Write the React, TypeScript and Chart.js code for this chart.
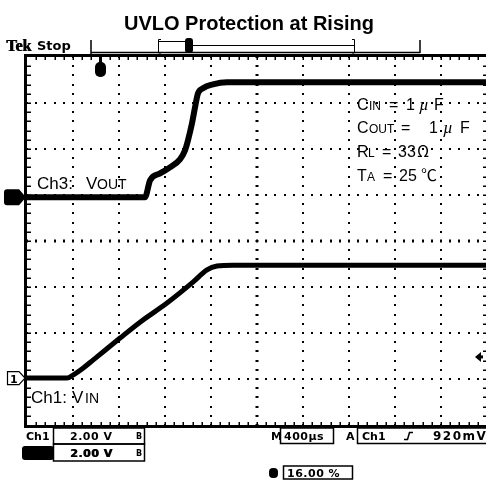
import React, { useEffect, useRef } from "react";
import { Chart, registerables } from "chart.js";

Chart.register(...registerables);

// ---- data (time in µs, voltage in V) ----
const TIME_US_VIN = [0, 348, 400, 487, 574, 809, 983, 1217, 1443, 1565, 1652, 1791, 4000];
const VIN_V = [0, 0, 0.13, 0.43, 0.78, 1.74, 2.43, 3.26, 4.17, 4.7, 4.87, 4.91, 4.91];
const TIME_US_VOUT = [0, 1026, 1070, 1157, 1243, 1330, 1374, 1400, 1435, 1461, 1487, 1530, 1617, 1739, 4000];
const VOUT_V = [0, 0, 0.74, 1.04, 1.3, 1.65, 2.04, 2.48, 3.22, 3.91, 4.52, 4.74, 4.91, 5.0, 5.0];

const VOLTS_PER_DIV = 2; // both channels 2.00 V/div
const US_PER_DIV = 400; // M 400µs
const H_DIVS = 10;
const V_DIVS = 8;
const CH1_GROUND_DIV = -2.98;
const CH3_GROUND_DIV = 0.95;
const TRIGGER_LEVEL_V = 0.92; // 920mV on Ch1

const TITLE = "UVLO Protection at Rising";
const CH1_SETTING = "2.00 V";
const CH3_SETTING = "2.00 V";
const TIMEBASE = "400µs";
const TRIG_SOURCE = "Ch1";
const TRIG_LEVEL_LABEL = "920mV";
const H_POSITION = "16.00 %";

const SANS = '"Liberation Sans", Arial, sans-serif';
const BOLD_UI = '"DejaVu Sans", "Liberation Sans", sans-serif';

const toDiv = (v: number, ground: number) => v / VOLTS_PER_DIV + ground;

function seg(ctx: CanvasRenderingContext2D, s: string, x: number, y: number, font: string) {
  ctx.font = font;
  ctx.textAlign = "left";
  ctx.textBaseline = "alphabetic";
  ctx.fillText(s, x, y);
}

const scopePlugin = {
  id: "scope",
  beforeDatasetsDraw(chart: any) {
    const ctx: CanvasRenderingContext2D = chart.ctx;
    const xs = chart.scales.x;
    const ys = chart.scales.y;
    const { left, right, top, bottom } = chart.chartArea;
    ctx.save();
    ctx.fillStyle = "#000";
    const dot = (x: number, y: number) => ctx.fillRect(Math.round(x) - 1, Math.round(y) - 1, 2, 2);
    for (let i = 1; i < H_DIVS; i++) {
      const x = xs.getPixelForValue(i * US_PER_DIV);
      for (let j = 0; j <= V_DIVS * 5; j++) dot(x, ys.getPixelForValue(-V_DIVS / 2 + j * 0.2));
    }
    for (let k = 1; k < V_DIVS; k++) {
      const y = ys.getPixelForValue(-V_DIVS / 2 + k);
      for (let j = 0; j <= H_DIVS * 5; j++) dot(xs.getPixelForValue((j * US_PER_DIV) / 5), y);
    }
    const cx = xs.getPixelForValue((H_DIVS / 2) * US_PER_DIV);
    const cy = ys.getPixelForValue(0);
    for (let j = 0; j <= V_DIVS * 5; j++) {
      const y = Math.round(ys.getPixelForValue(-V_DIVS / 2 + j * 0.2));
      ctx.fillRect(Math.round(cx) - 2, y - 0.5, 4, 1);
    }
    for (let j = 0; j <= H_DIVS * 5; j++) {
      const x = Math.round(xs.getPixelForValue((j * US_PER_DIV) / 5));
      ctx.fillRect(x - 0.5, Math.round(cy) - 2, 1, 4);
    }
    for (let j = 1; j < H_DIVS * 5; j++) {
      const x = Math.round(xs.getPixelForValue((j * US_PER_DIV) / 5));
      ctx.fillRect(x - 0.5, top, 1.5, 3);
      ctx.fillRect(x - 0.5, bottom - 3, 1.5, 3);
    }
    for (let j = 1; j < V_DIVS * 5; j++) {
      const y = Math.round(ys.getPixelForValue(-V_DIVS / 2 + j * 0.2));
      ctx.fillRect(left, y - 0.5, 4, 1.5);
      ctx.fillRect(right - 4, y - 0.5, 4, 1.5);
    }
    ctx.fillRect(left - 3, top - 3, right - left + 3, 3);
    ctx.fillRect(left - 3, bottom, right - left + 3, 3);
    ctx.fillRect(left - 3, top - 3, 3, bottom - top + 6);
    ctx.restore();
  },
  afterDraw(chart: any) {
    const ctx: CanvasRenderingContext2D = chart.ctx;
    const ys = chart.scales.y;
    const { top } = chart.chartArea;
    ctx.save();
    ctx.fillStyle = "#000";
    ctx.strokeStyle = "#000";

    // title
    ctx.font = `bold 20px ${SANS}`;
    ctx.textAlign = "center";
    ctx.fillText(TITLE, 249, 30);

    // header "Tek Stop"
    seg(ctx, "Tek", 6, 51, 'bold 16px "Liberation Serif", serif');
    seg(ctx, "Tek", 6.7, 51, 'bold 16px "Liberation Serif", serif');
    seg(ctx, "Stop", 37, 50, `bold 13px ${BOLD_UI}`);

    // record / trigger position bar
    ctx.lineWidth = 1.5;
    ctx.beginPath();
    ctx.moveTo(91, 40); ctx.lineTo(91, top - 3);
    ctx.moveTo(91, 52.5); ctx.lineTo(420, 52.5);
    ctx.moveTo(420, 40); ctx.lineTo(420, 53);
    ctx.stroke();
    ctx.lineWidth = 1;
    ctx.beginPath();
    ctx.moveTo(161, 39.5); ctx.lineTo(158.5, 39.5); ctx.lineTo(158.5, 53); ctx.lineTo(161, 53);
    ctx.moveTo(352, 39.5); ctx.lineTo(354.5, 39.5); ctx.lineTo(354.5, 53); ctx.lineTo(352, 53);
    ctx.moveTo(159, 41.5); ctx.lineTo(187, 41.5);
    ctx.moveTo(190, 45.5); ctx.lineTo(354, 45.5);
    ctx.stroke();
    ctx.beginPath();
    ctx.roundRect(185, 38, 8, 15, 3);
    ctx.fill();

    // trigger position marker below top border
    ctx.beginPath();
    ctx.roundRect(95, 62, 11, 15, 5);
    ctx.fill();
    ctx.fillRect(99, 57, 3, 6);

    // Ch3 ground marker (filled)
    const y3 = ys.getPixelForValue(CH3_GROUND_DIV);
    ctx.beginPath();
    ctx.moveTo(7, y3 - 8);
    ctx.lineTo(19, y3 - 8);
    ctx.lineTo(26, y3);
    ctx.lineTo(19, y3 + 8);
    ctx.lineTo(7, y3 + 8);
    ctx.quadraticCurveTo(4, y3 + 8, 4, y3 + 5);
    ctx.lineTo(4, y3 - 5);
    ctx.quadraticCurveTo(4, y3 - 8, 7, y3 - 8);
    ctx.fill();

    // Ch1 ground marker (outlined with "1")
    const y1 = ys.getPixelForValue(CH1_GROUND_DIV);
    ctx.lineWidth = 1.2;
    ctx.fillStyle = "#fff";
    ctx.beginPath();
    ctx.moveTo(7.5, y1 - 6.5);
    ctx.lineTo(19, y1 - 6.5);
    ctx.lineTo(25, y1);
    ctx.lineTo(19, y1 + 6.5);
    ctx.lineTo(7.5, y1 + 6.5);
    ctx.closePath();
    ctx.fill();
    ctx.stroke();
    ctx.fillStyle = "#000";
    seg(ctx, "1", 10, y1 + 5, `bold 11px ${BOLD_UI}`);

    // trigger level arrow (right edge)
    const yt = ys.getPixelForValue(toDiv(TRIGGER_LEVEL_V, CH1_GROUND_DIV));
    ctx.beginPath();
    ctx.moveTo(475, yt);
    ctx.lineTo(481, yt - 5);
    ctx.lineTo(481, yt + 5);
    ctx.closePath();
    ctx.fill();
    ctx.fillRect(480, yt - 1.5, 3, 3);

    // channel labels
    seg(ctx, "Ch3:", 37, 189, `17px ${SANS}`);
    seg(ctx, "V", 86, 189, `17px ${SANS}`);
    seg(ctx, "OUT", 97, 189, `14px ${SANS}`);
    seg(ctx, "Ch1:", 31, 403, `17px ${SANS}`);
    seg(ctx, "V", 72, 403, `17px ${SANS}`);
    seg(ctx, "IN", 85, 403, `14px ${SANS}`);

    // conditions
    const big = `16px ${SANS}`;
    const small = `12px ${SANS}`;
    const mu = 'italic 17px "Liberation Serif", serif';
    const cjk = '16px "Noto Sans CJK SC", sans-serif';
    seg(ctx, "C", 357, 110, big); seg(ctx, "IN", 369, 110, small); seg(ctx, "=", 389, 110, big);
    seg(ctx, "1", 406, 110, big); seg(ctx, "µ", 419, 110, mu); seg(ctx, "F", 434, 110, big);
    seg(ctx, "C", 357, 133, big); seg(ctx, "OUT", 369, 133, small); seg(ctx, "=", 401, 133, big);
    seg(ctx, "1", 429, 133, big); seg(ctx, "µ", 443, 133, mu); seg(ctx, "F", 460, 133, big);
    seg(ctx, "R", 357, 157, big); seg(ctx, "L", 368, 157, small); seg(ctx, "=", 382, 157, big);
    seg(ctx, "33", 398, 157, big); seg(ctx, "Ω", 417, 157, cjk);
    seg(ctx, "T", 357, 181, big); seg(ctx, "A", 367, 181, small); seg(ctx, "=", 383, 181, big);
    seg(ctx, "25", 399, 181, big); seg(ctx, "℃", 421, 181, cjk);

    // ---- status bar ----
    const ui = `bold 11px ${BOLD_UI}`;
    ctx.lineWidth = 1.5;
    ctx.strokeRect(53.5, 428, 91, 16);
    ctx.strokeRect(53.5, 444, 91, 17);
    ctx.strokeRect(280.5, 428, 53, 15.5);
    ctx.strokeRect(357.5, 428, 135, 15.5);
    ctx.strokeRect(283.5, 466, 69, 13);
    seg(ctx, "Ch1", 26, 440, ui);
    (ctx as any).letterSpacing = "0.5px";
    seg(ctx, CH1_SETTING, 70, 440, ui);
    seg(ctx, CH3_SETTING, 70, 457, ui);
    seg(ctx, CH3_SETTING, 70.7, 457, ui);
    (ctx as any).letterSpacing = "0px";
    seg(ctx, "B", 136, 439, `bold 8px ${BOLD_UI}`);
    seg(ctx, "B", 136, 456, `bold 8px ${BOLD_UI}`);
    ctx.beginPath();
    ctx.roundRect(22, 446, 32, 14, 3);
    ctx.fill();
    seg(ctx, "M", 271, 440, ui);
    (ctx as any).letterSpacing = "0.5px";
    seg(ctx, TIMEBASE, 284, 440, ui);
    (ctx as any).letterSpacing = "0px";
    seg(ctx, "A", 346, 440, ui);
    seg(ctx, TRIG_SOURCE, 362, 440, ui);
    ctx.lineWidth = 1.5;
    ctx.beginPath();
    ctx.moveTo(404, 439.5); ctx.lineTo(407.5, 439.5); ctx.lineTo(409.5, 432.5); ctx.lineTo(413, 432.5);
    ctx.stroke();
    (ctx as any).letterSpacing = "1.5px";
    seg(ctx, TRIG_LEVEL_LABEL, 433, 440, `bold 12px ${BOLD_UI}`);
    (ctx as any).letterSpacing = "0.5px";
    seg(ctx, H_POSITION, 287, 477, ui);
    (ctx as any).letterSpacing = "0px";
    ctx.beginPath();
    ctx.roundRect(269, 468, 9, 10, 4);
    ctx.fill();
    ctx.restore();
  },
};

export default function App() {
  const ref = useRef<HTMLCanvasElement | null>(null);
  useEffect(() => {
    document.body.style.margin = "0";
    const canvas = ref.current;
    if (!canvas) return;
    const chart = new Chart(canvas, {
      type: "line",
      data: {
        datasets: [
          {
            label: "Ch1: VIN",
            data: TIME_US_VIN.map((t, i) => ({ x: t, y: toDiv(VIN_V[i], CH1_GROUND_DIV) })),
            borderColor: "#000",
            borderWidth: 5,
            pointRadius: 0,
            cubicInterpolationMode: "monotone",
            borderCapStyle: "round",
            borderJoinStyle: "round",
          },
          {
            label: "Ch3: VOUT",
            data: TIME_US_VOUT.map((t, i) => ({ x: t, y: toDiv(VOUT_V[i], CH3_GROUND_DIV) })),
            borderColor: "#000",
            borderWidth: 6,
            pointRadius: 0,
            cubicInterpolationMode: "monotone",
            borderCapStyle: "round",
            borderJoinStyle: "round",
          },
        ],
      },
      options: {
        animation: false,
        responsive: false,
        events: [],
        layout: { padding: { left: 27, top: 57, right: 0, bottom: 58 } },
        scales: {
          x: { type: "linear", min: 0, max: H_DIVS * US_PER_DIV, display: false },
          y: { type: "linear", min: -V_DIVS / 2, max: V_DIVS / 2, display: false },
        },
        plugins: { legend: { display: false }, tooltip: { enabled: false }, title: { display: false } },
      },
      plugins: [scopePlugin],
    } as any);
    return () => chart.destroy();
  }, []);
  return (
    <div style={{ width: 486, height: 483, overflow: "hidden", background: "#fff", position: "relative" }}>
      <canvas ref={ref} width={487} height={483} style={{ display: "block" }} />
    </div>
  );
}
